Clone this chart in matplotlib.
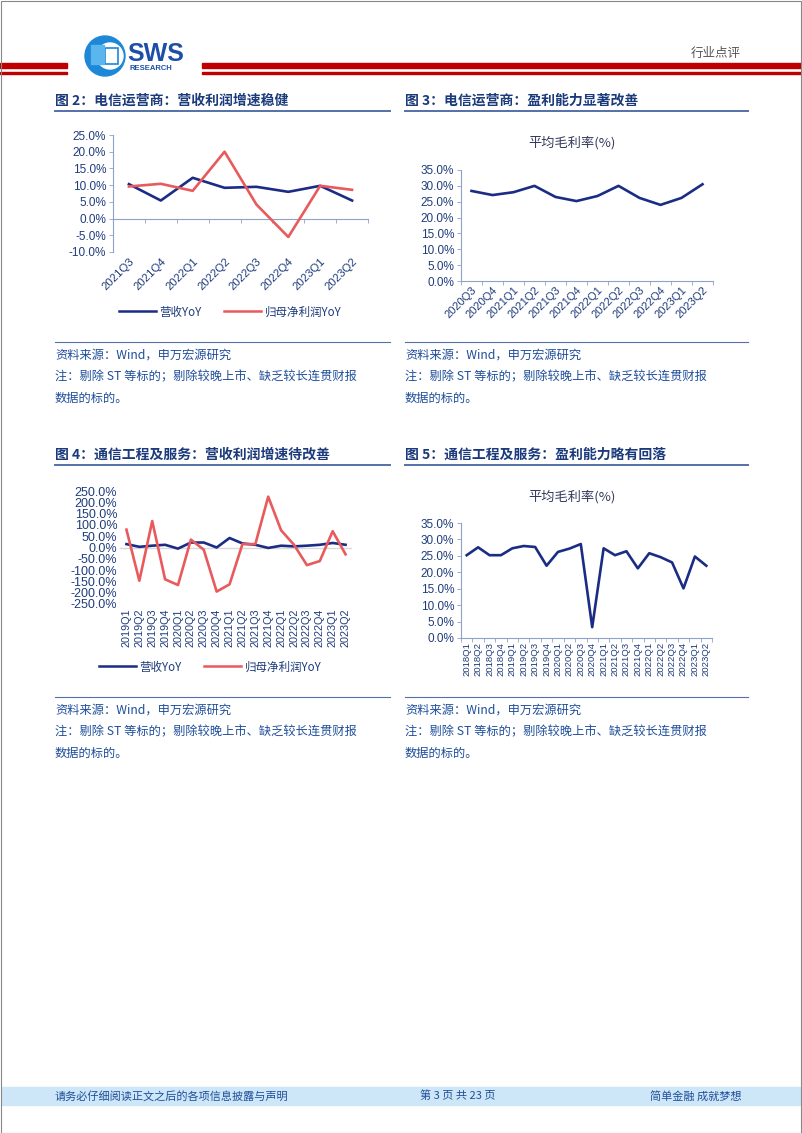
import matplotlib
matplotlib.use("Agg")
import matplotlib.pyplot as plt
from matplotlib.lines import Line2D
from matplotlib.patches import Rectangle, Ellipse

plt.rcParams['font.family'] = ['Noto Sans CJK SC', 'DejaVu Sans']

# ---- data ----
q_fig2 = ["2021Q3", "2021Q4", "2022Q1", "2022Q2", "2022Q3", "2022Q4", "2023Q1", "2023Q2"]
rev_fig2 = [10.3, 5.4, 12.2, 9.2, 9.5, 8.0, 9.8, 5.4]
profit_fig2 = [9.6, 10.4, 8.3, 20.0, 4.2, -5.5, 9.8, 8.6]

q_fig3 = ["2020Q3", "2020Q4", "2021Q1", "2021Q2", "2021Q3", "2021Q4",
          "2022Q1", "2022Q2", "2022Q3", "2022Q4", "2023Q1", "2023Q2"]
margin_fig3 = [28.4, 27.1, 28.0, 30.0, 26.5, 25.2, 26.8, 30.0, 26.2, 24.0, 26.2, 30.5]

q_fig4 = ["2019Q1", "2019Q2", "2019Q3", "2019Q4", "2020Q1", "2020Q2", "2020Q3", "2020Q4",
          "2021Q1", "2021Q2", "2021Q3", "2021Q4", "2022Q1", "2022Q2", "2022Q3", "2022Q4",
          "2023Q1", "2023Q2"]
rev_fig4 = [15, 3, 8, 12, -5, 22, 22, 0, 42, 18, 12, -2, 8, 5, 8, 12, 20, 12]
profit_fig4 = [79, -147, 117, -141, -166, 35, -10, -195, -163, 15, 15, 225, 76, 12, -78, -60, 72, -30]

q_fig5 = ["2018Q1", "2018Q2", "2018Q3", "2018Q4", "2019Q1", "2019Q2", "2019Q3", "2019Q4",
          "2020Q1", "2020Q2", "2020Q3", "2020Q4", "2021Q1", "2021Q2", "2021Q3", "2021Q4",
          "2022Q1", "2022Q2", "2022Q3", "2022Q4", "2023Q1", "2023Q2"]
margin_fig5 = [25.2, 27.6, 25.2, 25.2, 27.3, 28.0, 27.7, 22.0, 26.2, 27.2, 28.6, 3.3,
               27.3, 25.2, 26.4, 21.2, 25.8, 24.6, 23.0, 15.1, 24.8, 22.0]

titles = ["图 2：电信运营商：营收利润增速稳健", "图 3：电信运营商：盈利能力显著改善",
          "图 4：通信工程及服务：营收利润增速待改善", "图 5：通信工程及服务：盈利能力略有回落"]
notes = ["资料来源：Wind，申万宏源研究",
         "注：剔除 ST 等标的；剔除较晚上市、缺乏较长连贯财报",
         "数据的标的。"]

W, H = 802, 1133
NAVY = "#1B2C85"
RED = "#E85A5C"
TXT = "#1F3C7C"
NOTE = "#1F4E9A"
AXC = "#8EA1C8"
LAT = ['Liberation Sans', 'DejaVu Sans']

fig = plt.figure(figsize=(W / 100, H / 100), dpi=100)


def px_axes(x0, y0, x1, y1):
    return fig.add_axes([x0 / W, 1 - y1 / H, (x1 - x0) / W, (y1 - y0) / H])


def fx(x):
    return x / W


def fy(y):
    return 1 - y / H


def style_axes(ax, ylim, step, labels, rot, fs, xfs):
    n = len(labels)
    ax.set_xlim(-0.5, n - 0.5)
    ax.set_ylim(*ylim)
    ticks = []
    v = ylim[0]
    while v <= ylim[1] + 1e-9:
        ticks.append(v)
        v += step
    ax.set_yticks(ticks)
    ax.set_yticklabels(["%.1f%%" % t for t in ticks], fontsize=fs, color=TXT, family=LAT)
    ax.set_xticks(range(n))
    if rot == 45:
        ax.set_xticklabels(labels, rotation=45, ha='right', rotation_mode='anchor',
                           fontsize=xfs, color=TXT, family=LAT)
    else:
        ax.set_xticklabels(labels, rotation=90, fontsize=xfs, color=TXT, family=LAT)
    ax.tick_params(axis='x', length=0, pad=3)
    ax.tick_params(axis='y', length=3, width=0.6, color=AXC, pad=2)
    for s in ['top', 'right', 'bottom']:
        ax.spines[s].set_visible(False)
    ax.spines['left'].set_color(AXC)
    ax.spines['left'].set_linewidth(0.8)
    ax.set_facecolor('none')


def zero_axis(ax, ylim, n):
    frac = (0 - ylim[0]) / (ylim[1] - ylim[0])
    sec = ax.secondary_xaxis(frac)
    sec.set_xticks([i - 0.5 for i in range(n + 1)])
    sec.set_xticklabels([])
    sec.tick_params(length=3, width=0.6, color=AXC, direction='out')
    sec.spines['bottom'].set_color(AXC)
    sec.spines['bottom'].set_linewidth(0.8)


# ---- page header ----
for x0, x1 in [(0, 67), (202, 802)]:
    fig.add_artist(Rectangle((fx(x0), fy(68)), fx(x1 - x0), 5 / H, color="#C00000",
                             transform=fig.transFigure))
    fig.add_artist(Rectangle((fx(x0), fy(73.5)), fx(x1 - x0), 1.6 / H, color="#C00000",
                             transform=fig.transFigure))
# logo
fig.add_artist(Ellipse((fx(105), fy(56)), 40 / W, 40 / H, color="#1E88D8", transform=fig.transFigure))
fig.add_artist(Ellipse((fx(110), fy(56)), 26 / W, 26 / H, color="white", transform=fig.transFigure))
fig.add_artist(Rectangle((fx(105), fy(64)), 13 / W, 16 / H, fill=False, ec="#1E88D8", lw=1.2,
                         transform=fig.transFigure))
for k in range(5):
    fig.add_artist(Rectangle((fx(91), fy(47.5 + k * 4)), 13 / W, 2.2 / H, color="#5BB6EE",
                             transform=fig.transFigure))
fig.text(fx(127), fy(54), "SWS", fontsize=18, fontweight='bold', color="#1E4FA8",
         family=LAT, va='center')
fig.text(fx(129), fy(69), "RESEARCH", fontsize=5.5, fontweight='bold', color="#1E4FA8",
         family=LAT, va='center')
fig.text(fx(741), fy(53), "行业点评", fontsize=9, color="#555555", ha='right', va='center')

# ---- section titles ----
title_pos = [(55, 101, 390), (405, 101, 748), (55, 455, 390), (405, 455, 748)]
for t, (x0, y0, x1) in zip(titles, title_pos):
    fig.text(fx(x0), fy(y0), t, fontsize=10, fontweight='bold', color="#1B3A7B", va='center')
    fig.add_artist(Line2D([fx(x0), fx(x1)], [fy(y0 + 10), fy(y0 + 10)],
                          color="#5470A8", lw=1.4, transform=fig.transFigure))

# ---- notes ----
for x0, x1 in [(55, 390), (405, 748)]:
    for ybase in [342, 697]:
        fig.add_artist(Line2D([fx(x0), fx(x1)], [fy(ybase), fy(ybase)], color="#5470A8", lw=0.8,
                              transform=fig.transFigure))
        for i, line in enumerate(notes):
            fig.text(fx(x0), fy(ybase + 13 + i * 21.5), line, fontsize=8.8, color=NOTE, va='center')

h = [Line2D([], [], color=NAVY, lw=1.8), Line2D([], [], color=RED, lw=1.8)]

# ---- figure 2 ----
ax2 = px_axes(113, 135, 368, 252)
yl2 = (-10, 25)
ax2.plot(range(len(q_fig2)), rev_fig2, color=NAVY, lw=1.9)
ax2.plot(range(len(q_fig2)), profit_fig2, color=RED, lw=1.9)
style_axes(ax2, yl2, 5, q_fig2, 45, 8.5, 8.2)
zero_axis(ax2, yl2, len(q_fig2))
fig.legend(h, ["营收YoY", "归母净利润YoY"], loc='center', bbox_to_anchor=(fx(230), fy(312)),
           ncol=2, frameon=False, fontsize=8.3, labelcolor=TXT, handlelength=3.2,
           columnspacing=2.0, handletextpad=0.3)

# ---- figure 3 ----
ax3 = px_axes(461, 170, 713, 281)
yl3 = (0, 35)
ax3.plot(range(len(q_fig3)), margin_fig3, color=NAVY, lw=1.9)
style_axes(ax3, yl3, 5, q_fig3, 45, 8.5, 8.0)
zero_axis(ax3, yl3, len(q_fig3))
fig.text(fx(572), fy(143), "平均毛利率(%)", fontsize=9.5, color="#333A5C", ha='center', va='center')

# ---- figure 4 ----
ax4 = px_axes(120, 491, 352, 604)
yl4 = (-250, 250)
ax4.axhline(0, color="#D9D9D9", lw=1.0, zorder=0)
ax4.plot(range(len(q_fig4)), rev_fig4, color=NAVY, lw=1.9)
ax4.plot(range(len(q_fig4)), profit_fig4, color=RED, lw=1.9)
style_axes(ax4, yl4, 50, q_fig4, 90, 9.0, 7.8)
ax4.spines['left'].set_visible(False)
ax4.tick_params(axis='y', length=0)
fig.legend(h, ["营收YoY", "归母净利润YoY"], loc='center', bbox_to_anchor=(fx(210), fy(667)),
           ncol=2, frameon=False, fontsize=8.3, labelcolor=TXT, handlelength=3.2,
           columnspacing=2.0, handletextpad=0.3)

# ---- figure 5 ----
ax5 = px_axes(461, 523, 712, 638)
yl5 = (0, 35)
ax5.plot(range(len(q_fig5)), margin_fig5, color=NAVY, lw=1.9)
style_axes(ax5, yl5, 5, q_fig5, 90, 8.5, 6.8)
zero_axis(ax5, yl5, len(q_fig5))
fig.text(fx(572), fy(497), "平均毛利率(%)", fontsize=9.5, color="#333A5C", ha='center', va='center')

# ---- footer ----
fig.add_artist(Rectangle((fx(2), fy(1105)), fx(798), 18 / H, color="#CDE7F8", transform=fig.transFigure))
fig.text(fx(55), fy(1096), "请务必仔细阅读正文之后的各项信息披露与声明", fontsize=8, color=NOTE, va='center')
fig.text(fx(458), fy(1096), "第 3 页 共 23 页", fontsize=8, color=NOTE, va='center', ha='center')
fig.text(fx(741), fy(1096), "简单金融 成就梦想", fontsize=8, color=NOTE, va='center', ha='right')

# page border
fig.add_artist(Rectangle((0.5 / W, 0.5 / H), 1 - 1.5 / W, 1 - 1.5 / H, fill=False, ec="#888888",
                         lw=0.8, transform=fig.transFigure))

fig.savefig("out.png", dpi=100)
